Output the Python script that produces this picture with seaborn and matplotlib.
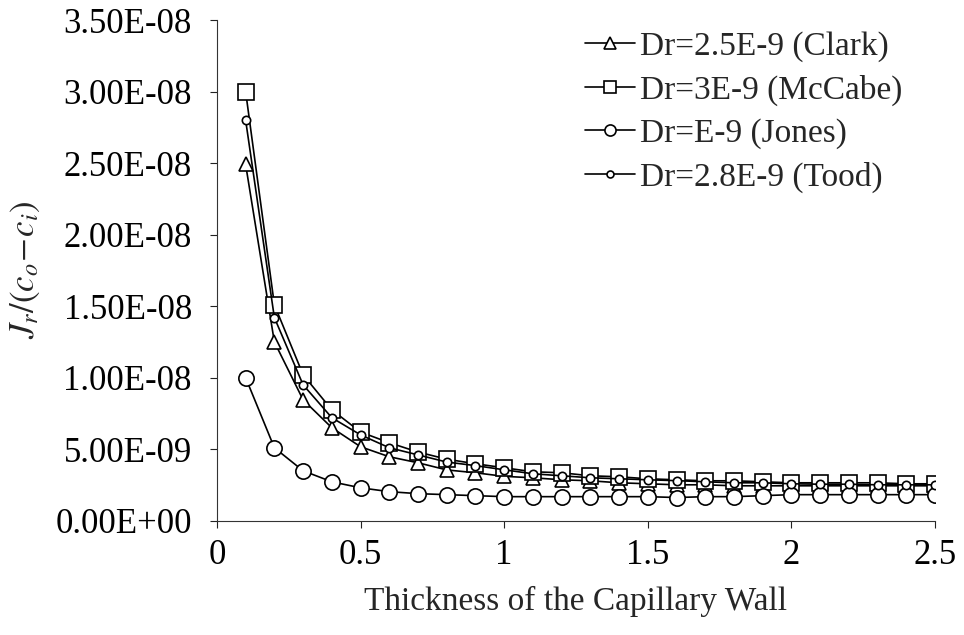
import numpy as np
import pandas as pd
import matplotlib
matplotlib.use("Agg")
import matplotlib.pyplot as plt
import seaborn as sns
from matplotlib.lines import Line2D

# ---- data ----
thickness = [0.1, 0.2, 0.3, 0.4, 0.5, 0.6, 0.7, 0.8, 0.9, 1.0,
             1.1, 1.2, 1.3, 1.4, 1.5, 1.6, 1.7, 1.8, 1.9, 2.0,
             2.1, 2.2, 2.3, 2.4, 2.5]
clark = [2.49e-8, 1.25e-8, 8.45e-9, 6.5e-9, 5.17e-9, 4.47e-9, 4.05e-9, 3.55e-9, 3.35e-9, 3.1e-9,
         3.0e-9, 2.86e-9, 2.79e-9, 2.65e-9, 2.58e-9, 2.51e-9, 2.51e-9, 2.44e-9, 2.44e-9, 2.44e-9,
         2.44e-9, 2.44e-9, 2.44e-9, 2.44e-9, 2.44e-9]
mccabe = [3.0e-8, 1.51e-8, 1.02e-8, 7.75e-9, 6.2e-9, 5.45e-9, 4.8e-9, 4.3e-9, 3.98e-9, 3.7e-9,
          3.42e-9, 3.35e-9, 3.14e-9, 3.07e-9, 2.93e-9, 2.86e-9, 2.79e-9, 2.79e-9, 2.72e-9, 2.65e-9,
          2.65e-9, 2.65e-9, 2.65e-9, 2.58e-9, 2.58e-9]
jones = [1.0e-8, 5.1e-9, 3.49e-9, 2.72e-9, 2.3e-9, 2.03e-9, 1.89e-9, 1.82e-9, 1.75e-9, 1.68e-9,
         1.68e-9, 1.68e-9, 1.68e-9, 1.68e-9, 1.68e-9, 1.62e-9, 1.68e-9, 1.68e-9, 1.75e-9, 1.82e-9,
         1.82e-9, 1.82e-9, 1.82e-9, 1.82e-9, 1.82e-9]
todd = [2.8e-8, 1.42e-8, 9.5e-9, 7.2e-9, 6.0e-9, 5.1e-9, 4.6e-9, 4.1e-9, 3.85e-9, 3.56e-9,
        3.28e-9, 3.14e-9, 3.0e-9, 2.93e-9, 2.86e-9, 2.8e-9, 2.72e-9, 2.65e-9, 2.65e-9, 2.58e-9,
        2.55e-9, 2.55e-9, 2.51e-9, 2.51e-9, 2.51e-9]
series_labels = ["Dr=2.5E-9 (Clark)", "Dr=3E-9 (McCabe)", "Dr=E-9 (Jones)", "Dr=2.8E-9 (Tood)"]
x_ticks = [0, 0.5, 1, 1.5, 2, 2.5]
x_tick_labels = ["0", "0.5", "1", "1.5", "2", "2.5"]
y_ticks = [0, 5e-9, 1e-8, 1.5e-8, 2e-8, 2.5e-8, 3e-8, 3.5e-8]
y_tick_labels = ["0.00E+00", "5.00E-09", "1.00E-08", "1.50E-08",
                 "2.00E-08", "2.50E-08", "3.00E-08", "3.50E-08"]

sns.set_style("ticks")
plt.rcParams["font.family"] = ["Liberation Serif", "DejaVu Serif"]
plt.rcParams["mathtext.fontset"] = "stix"

fig = plt.figure(figsize=(9.64, 6.35), dpi=100)
ax = fig.add_axes([0.225, 0.180, 0.745, 0.7885])

styles = [
    dict(marker="^", markersize=10),
    dict(marker="s", markersize=11),
    dict(marker="o", markersize=11),
    dict(marker="o", markersize=6),
]
all_vals = [clark, mccabe, jones, todd]
for vals, lab, st in zip(all_vals, series_labels, styles):
    df = pd.DataFrame({"x": thickness, "y": vals})
    sns.lineplot(data=df, x="x", y="y", ax=ax, color="black", linewidth=1.2,
                 marker=st["marker"], markersize=st["markersize"],
                 markerfacecolor="white", markeredgecolor="black",
                 markeredgewidth=1.2, label=lab)

ax.set_xlim(0, 2.5)
ax.set_ylim(0, 3.5e-8)
ax.set_xticks(x_ticks)
ax.set_xticklabels(x_tick_labels)
ax.set_yticks(y_ticks)
ax.set_yticklabels(y_tick_labels)
ax.tick_params(axis="both", labelsize=25, length=5, width=0.8, colors="#222222", labelcolor="black")
ax.tick_params(axis="y", pad=13)
ax.tick_params(axis="x", pad=8)
for s in ["top", "right"]:
    ax.spines[s].set_visible(False)
for s in ["left", "bottom"]:
    ax.spines[s].set_linewidth(0.8)
    ax.spines[s].set_color("#333333")

ax.set_xlabel("Thickness of the Capillary Wall", fontsize=24, labelpad=10)
ax.set_ylabel(r"$J_r/(c_o\!-\!c_i)$", fontsize=25, labelpad=10)

leg_sizes = [8, 9, 8, 5]
leg_handles = [Line2D([], [], color="black", linewidth=1.2, marker=st["marker"],
                      markersize=ms, markerfacecolor="white", markeredgecolor="black",
                      markeredgewidth=1.2)
               for st, ms in zip(styles, leg_sizes)]
ax.legend(leg_handles, series_labels, loc="upper right", bbox_to_anchor=(0.973, 1.005),
          frameon=False, fontsize=24, handlelength=1.5, handletextpad=0.15,
          labelspacing=0.38, borderaxespad=0.0)

fig.savefig("out.png", dpi=100, facecolor="white")
